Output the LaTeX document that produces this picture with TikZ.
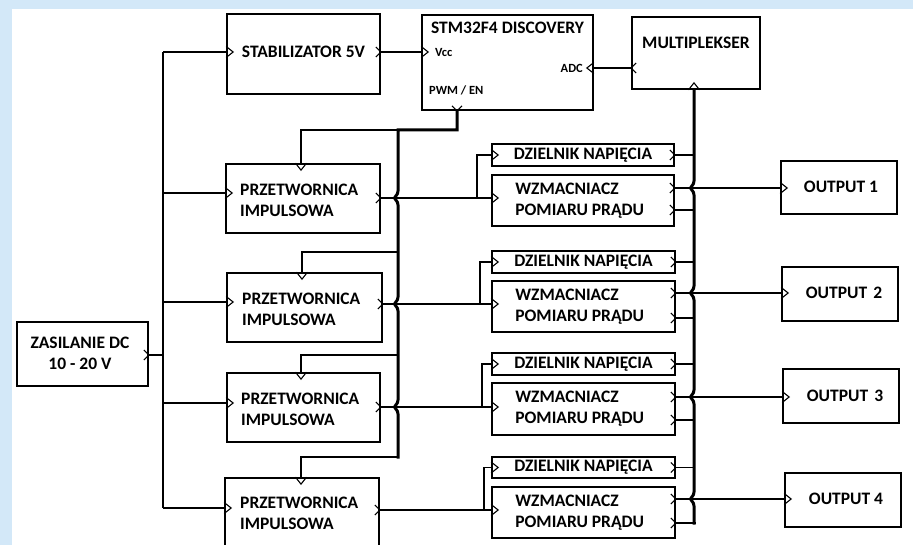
\documentclass[tikz,border=0pt]{standalone}
\usepackage{fontspec}
\setmainfont{Carlito}
\definecolor{bgblue}{RGB}{211,232,248}
\begin{document}
\begin{tikzpicture}[x=1pt,y=-1pt,
  box/.style={draw, line width=1.7pt, inner sep=0pt},
  wire/.style={line width=1.3pt},
  bus/.style={line width=3pt, line join=miter},
  lbl/.style={font=\bfseries\fontsize{17.5}{21}\selectfont, inner sep=0pt},
  small/.style={font=\bfseries\fontsize{12.5}{14}\selectfont, inner sep=0pt},
  inport/.pic={\draw[line width=1.1pt, line join=miter] (0,-5.5)--(7,0)--(0,5.5);},
  outport/.pic={\draw[line width=1.1pt] (-5,-5)--(0,0)--(-5,5);},
  hop/.style 2 args={insert path={-- (#1,#2-7) .. controls (#1,#2-2.5) and (#1-3.5,#2-2) .. (#1-3.5,#2) .. controls (#1-3.5,#2+2) and (#1,#2+2.5) .. (#1,#2+7)}},
]
% background
\fill[bgblue] (0,0) rectangle (913,545);
\fill[white] (12,9) rectangle (913,545);
\useasboundingbox (0,0) rectangle (913,545);

% boxes
\node[box, minimum width=153, minimum height=80] (stab) at (303.5,54) {};
\node[box, minimum width=171, minimum height=95] (stm) at (507.5,62.5) {};
\node[box, minimum width=128, minimum height=72] (mux) at (696,53) {};
\node[box, minimum width=131, minimum height=64] (zas) at (82.5,354) {};
\node[box, minimum width=154, minimum height=69] (c1) at (303,198.5) {};
\node[box, minimum width=155, minimum height=69] (c2) at (304.5,307.5) {};
\node[box, minimum width=153, minimum height=69] (c3) at (303.5,407.5) {};
\node[box, minimum width=154, minimum height=72] (c4) at (302,514) {};
\node[box, minimum width=182, minimum height=22] (d1) at (583,155) {};
\node[box, minimum width=182, minimum height=51] (w1) at (583,200.5) {};
\node[box, minimum width=183, minimum height=22] (d2) at (583.5,262) {};
\node[box, minimum width=183, minimum height=51] (w2) at (583.5,306.5) {};
\node[box, minimum width=183, minimum height=22] (d3) at (583.5,364) {};
\node[box, minimum width=183, minimum height=52] (w3) at (583.5,409) {};
\node[box, minimum width=183, minimum height=21] (d4) at (583.5,467.5) {};
\node[box, minimum width=183, minimum height=51] (w4) at (583.5,512.5) {};
\node[box, minimum width=116, minimum height=53] (o1) at (839,187.5) {};
\node[box, minimum width=116, minimum height=54] (o2) at (840,294) {};
\node[box, minimum width=116, minimum height=54] (o3) at (841,396) {};
\node[box, minimum width=116, minimum height=54] (o4) at (843,500) {};

% texts
\node[lbl] (stabt) at (303.5,52) {STABILIZATOR 5V};
\node[lbl] (stmt) at (507.5,28) {STM32F4 DISCOVERY};
\node[small, anchor=west] (vcc) at (435,52) {Vcc};
\node[small, anchor=east] (adc) at (583,68) {ADC};
\node[small, anchor=west] (pwm) at (429,90) {PWM / EN};
\node[lbl] (muxt) at (696,43) {MULTIPLEKSER};
\node[lbl, align=center] (zast) at (80,353) {ZASILANIE DC\\10 - 20 V};
\node[lbl, align=left, anchor=west] (c1t) at (240,200) {PRZETWORNICA\\IMPULSOWA};
\node[lbl, align=left, anchor=west] (c2t) at (242,309) {PRZETWORNICA\\IMPULSOWA};
\node[lbl, align=left, anchor=west] (c3t) at (241,409) {PRZETWORNICA\\IMPULSOWA};
\node[lbl, align=left, anchor=west] (c4t) at (240,513) {PRZETWORNICA\\IMPULSOWA};
\foreach \i in {1,2,3,4} {
  \node[lbl] (d\i t) at (d\i) {DZIELNIK NAPIĘCIA};
  \node[lbl, align=left, anchor=west] (w\i t) at ([xshift=24]w\i.west) {WZMACNIACZ\\POMIARU PRĄDU};
}
\node[lbl] (o1t) at (841,187) {OUTPUT 1};
\node[lbl] (o2t) at (844,293) {OUTPUT\hspace{0.35em}2};
\node[lbl] (o3t) at (845,396) {OUTPUT\hspace{0.35em}3};
\node[lbl] (o4t) at (846,499) {OUTPUT 4};

% named port / junction coordinates
\coordinate (lb) at (163,52);
\coordinate (lbend) at (163,508);
\coordinate (zasout) at (zas.east |- 0,355);
\coordinate (stabin) at (stab.west |- 0,52);
\coordinate (stabout) at (stab.east |- 0,52);
\coordinate (vccin) at (stm.west |- 0,52);
\coordinate (adcin) at (stm.east |- 0,68);
\coordinate (muxout) at (mux.west |- 0,68);
\coordinate (pwmout) at (457,0 |- stm.south);
\coordinate (muxin) at (694,0 |- mux.south);

% left supply bus
\draw[wire] (lb) -- (lbend);
\draw[wire] (lb) -- (stabin);
\draw[wire] (zasout) -- (163,355);
\draw[wire] (163,193) -- (c1.west |- 0,193);
\draw[wire] (163,302) -- (c2.west |- 0,302);
\draw[wire] (163,403) -- (c3.west |- 0,403);
\draw[wire] (163,508) -- (c4.west |- 0,508);
\draw[wire] (stabout) -- (vccin);
\draw[wire] (adcin) -- (muxout);

% PWM bus
\draw[bus] (pwmout) -- (457,130) -- (398,130) [hop={398}{198}] [hop={398}{304}] [hop={398}{407}] -- (398,457) -- (396.5,457);
\draw[wire] (398,130) -- (301,130) -- (301,0 |- c1.north);
\draw[wire] (398,252) -- (302,252) -- (302,0 |- c2.north);
\draw[wire] (398,355) -- (301,355) -- (301,0 |- c3.north);
\draw[wire] (397,457) -- (301,457) -- (301,0 |- c4.north);

% converter outputs to divider / amplifier
\draw[wire] (c1.east |- 0,198) -- (w1.west |- 0,198);
\draw[wire] (477,198) -- (477,155) -- (d1.west);
\draw[wire] (c2.east |- 0,304) -- (w2.west |- 0,304);
\draw[wire] (480,304) -- (480,262) -- (d2.west);
\draw[wire] (c3.east |- 0,407) -- (w3.west |- 0,407);
\draw[wire] (482,407) -- (482,364) -- (d3.west);
\draw[wire] (c4.east |- 0,510) -- (w4.west |- 0,510);
\draw[wire] (484,510) -- (484,467.5) -- (d4.west);

% measurement bus
\draw[bus] (muxin) [hop={694}{188}] [hop={694}{293}] [hop={694}{397}] [hop={694}{499}] -- (694,524.5);
\draw[wire] (d1.east) -- (694,155);
\draw[wire] (w1.east |- 0,210) -- (694,210);
\draw[wire] (d2.east) -- (694,262);
\draw[wire] (w2.east |- 0,318) -- (694,318);
\draw[wire] (d3.east) -- (694,364);
\draw[wire] (w3.east |- 0,420) -- (694,420);
\draw[wire] (d4.east) -- (694,467.5);
\draw[wire] (w4.east |- 0,523) -- (695.5,523);
\draw[wire] (w1.east |- 0,188) -- (o1.west |- 0,188);
\draw[wire] (w2.east |- 0,293) -- (o2.west |- 0,293);
\draw[wire] (w3.east |- 0,397) -- (o3.west |- 0,397);
\draw[wire] (w4.east |- 0,499) -- (o4.west |- 0,499);

% ports: inputs
\pic at (stabin) {inport};
\pic at (vccin) {inport};
\pic[rotate=180] at (adcin) {inport};
\pic[rotate=90] at (muxin) {inport};
\pic at (c1.west |- 0,193) {inport};
\pic at (c2.west |- 0,302) {inport};
\pic at (c3.west |- 0,403) {inport};
\pic at (c4.west |- 0,508) {inport};
\pic[rotate=-90] at (301,0 |- c1.north) {inport};
\pic[rotate=-90] at (302,0 |- c2.north) {inport};
\pic[rotate=-90] at (301,0 |- c3.north) {inport};
\pic[rotate=-90] at (301,0 |- c4.north) {inport};
\pic at (d1.west) {inport};
\pic at (d2.west) {inport};
\pic at (d3.west) {inport};
\pic at (d4.west) {inport};
\pic at (w1.west |- 0,198) {inport};
\pic at (w2.west |- 0,304) {inport};
\pic at (w3.west |- 0,407) {inport};
\pic at (w4.west |- 0,510) {inport};
\pic at (o1.west |- 0,188) {inport};
\pic at (o2.west |- 0,293) {inport};
\pic at (o3.west |- 0,397) {inport};
\pic at (o4.west |- 0,499) {inport};
% ports: outputs
\pic at (stabout) {outport};
\pic at (zasout) {outport};
\pic[rotate=180] at (muxout) {outport};
\pic[rotate=-90] at (pwmout) {outport};
\pic at (c1.east |- 0,198) {outport};
\pic at (c2.east |- 0,304) {outport};
\pic at (c3.east |- 0,407) {outport};
\pic at (c4.east |- 0,510) {outport};
\foreach \i in {1,2,3,4} {\pic at (d\i.east) {outport};}
\pic at (w1.east |- 0,188) {outport};
\pic at (w1.east |- 0,210) {outport};
\pic at (w2.east |- 0,293) {outport};
\pic at (w2.east |- 0,318) {outport};
\pic at (w3.east |- 0,397) {outport};
\pic at (w3.east |- 0,420) {outport};
\pic at (w4.east |- 0,499) {outport};
\pic at (w4.east |- 0,523) {outport};
\end{tikzpicture}
\end{document}
